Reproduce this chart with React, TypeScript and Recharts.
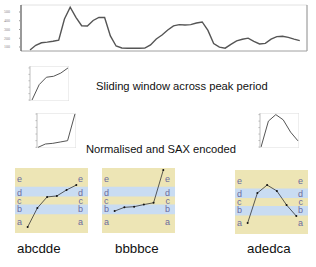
import { Line, LineChart, ReferenceArea, ReferenceLine, XAxis, YAxis } from "recharts";

// full period trace (one value per sample)
const trafficValues = [
  66, 119, 148, 155, 165, 177, 420, 554, 439, 343, 340, 403, 439, 437, 227, 111,
  89, 85, 85, 85, 87, 123, 191, 237, 294, 342, 356, 351, 356, 374, 386, 289,
  140, 98, 86, 129, 169, 188, 201, 164, 134, 141, 190, 219, 222, 210, 190, 172,
];
const trafficTicks = [100, 200, 300, 400, 500];
const trafficTickLabels = ["100", "200", "300", "400", "500"];

// windows, raw shape scaled 0..1
const windowSteps = [0, 1, 2, 3, 4, 5];
const rawWindowA = [0, 0.48, 0.71, 0.74, 0.84, 1.0];
const rawWindowB = [0, 0.1, 0.12, 0.16, 0.2, 1.0];
const rawWindowC = [0, 0.8, 1.0, 0.84, 0.46, 0.19];
const thumbTicks = [0, 0.2, 0.4, 0.6, 0.8, 1];

// normalised (z) values
const saxA = [-1.63, -0.46, 0.22, 0.28, 0.65, 0.95];
const saxB = [-0.65, -0.42, -0.38, -0.25, -0.14, 1.88];
const saxC = [-1.31, 0.56, 1.06, 0.69, -0.19, -0.88];
const saxLetters = ["a", "b", "c", "d", "e"];
const saxLetterLevels = [-1.32, -0.5, 0, 0.5, 1.32];
const saxBreakpoints = [-0.84, -0.25, 0.25, 0.84];
const saxWords = ["abcdde", "bbbbce", "adedca"];

const FONT = "'Liberation Sans', Arial, sans-serif";
const KHAKI = "#ede5b5";
const BAND = "#c9dcf2";
const LETTER = "#6b6b9e";

const toRows = (vals: number[]) => vals.map((v, i) => ({ step: windowSteps[i], v }));
const letterFor = (v: number) => saxLetters[saxLetterLevels.indexOf(v)];

const TrafficChart = () => {
  const data = trafficValues.map((v, i) => ({ i, v }));
  return (
    <div style={{ position: "absolute", left: 0, top: 0 }}>
      <LineChart width={308} height={55} data={data} margin={{ top: 5, right: 1, left: 0, bottom: 0 }}>
        <XAxis
          dataKey="i"
          type="number"
          domain={[-1.57, 48.26]}
          allowDataOverflow
          tick={false}
          tickLine={false}
          height={4}
          axisLine={{ stroke: "#a0a0a0" }}
        />
        <YAxis
          type="number"
          domain={[54, 580]}
          allowDataOverflow
          ticks={trafficTicks}
          interval={0}
          width={21}
          tickSize={2}
          tickMargin={9}
          tick={{ fontSize: 4, fill: "#888" }}
          tickFormatter={(v: number) => trafficTickLabels[trafficTicks.indexOf(v)]}
          axisLine={{ stroke: "#555", strokeWidth: 1.2 }}
          tickLine={{ stroke: "#999" }}
        />
        <ReferenceLine y={580} stroke="#e2e2e2" />
        <ReferenceLine x={48.26} stroke="#8a8a8a" />
        <Line dataKey="v" stroke="#555" strokeWidth={1.4} dot={false} isAnimationActive={false} />
      </LineChart>
    </div>
  );
};

type ThumbProps = {
  values: number[];
  left: number;
  top: number;
  xDomain: [number, number];
  yDomain: [number, number];
};

const WindowThumb = ({ values, left, top, xDomain, yDomain }: ThumbProps) => (
  <div style={{ position: "absolute", left: left - 4, top }}>
    <LineChart width={43} height={35} data={toRows(values)} margin={{ top: 0, right: 0, left: 0, bottom: 0 }}>
      <XAxis hide dataKey="step" type="number" domain={xDomain} allowDataOverflow />
      <YAxis
        type="number"
        domain={yDomain}
        allowDataOverflow
        ticks={thumbTicks}
        interval={0}
        width={4}
        tickSize={1.5}
        tickFormatter={() => ""}
        tickLine={{ stroke: "#b8b8b8" }}
        axisLine={{ stroke: "#d0d0d0" }}
      />
      <ReferenceArea x1={xDomain[0]} x2={xDomain[1]} y1={yDomain[0]} y2={yDomain[1]} fill="none" stroke="#dcdcdc" />
      <Line dataKey="v" stroke="#555" strokeWidth={1} dot={false} isAnimationActive={false} />
    </LineChart>
  </div>
);

type SaxProps = {
  values: number[];
  left: number;
  top: number;
  height: number;
  word: string;
  wordLeft: number;
  wordTop: number;
};

const SaxBox = ({ values, left, top, height, word, wordLeft, wordTop }: SaxProps) => (
  <div style={{ position: "absolute", left, top }}>
    <LineChart width={73} height={height} data={toRows(values)} margin={{ top: 0, right: 0, left: 0, bottom: 0 }}>
      <XAxis hide dataKey="step" type="number" domain={[-1.3, 6.2]} allowDataOverflow />
      <ReferenceArea yAxisId="l" y1={-2} y2={2} fill={KHAKI} fillOpacity={1} ifOverflow="visible" />
      <ReferenceArea yAxisId="l" y1={saxBreakpoints[0]} y2={saxBreakpoints[1]} fill={BAND} fillOpacity={1} />
      <ReferenceArea yAxisId="l" y1={saxBreakpoints[2]} y2={saxBreakpoints[3]} fill={BAND} fillOpacity={1} />
      <YAxis
        yAxisId="l"
        orientation="left"
        mirror
        type="number"
        domain={[-2, 2]}
        allowDataOverflow
        ticks={saxLetterLevels}
        interval={0}
        minTickGap={-20}
        tickFormatter={letterFor}
        axisLine={false}
        tickLine={false}
        tickSize={0}
        tickMargin={2}
        tick={{ fontSize: 9, fill: LETTER, fontFamily: FONT }}
      />
      <YAxis
        yAxisId="r"
        orientation="right"
        mirror
        type="number"
        domain={[-2, 2]}
        allowDataOverflow
        ticks={saxLetterLevels}
        interval={0}
        minTickGap={-20}
        tickFormatter={letterFor}
        axisLine={false}
        tickLine={false}
        tickSize={0}
        tickMargin={5}
        tick={{ fontSize: 9, fill: LETTER, fontFamily: FONT }}
      />
      <Line
        yAxisId="l"
        dataKey="v"
        stroke="#333"
        strokeWidth={0.8}
        dot={{ r: 1, fill: "#111", stroke: "none" }}
        isAnimationActive={false}
      />
    </LineChart>
    <div
      style={{
        position: "absolute",
        left: wordLeft,
        top: wordTop,
        fontFamily: FONT,
        fontSize: 13.3,
        whiteSpace: "nowrap",
        color: "#111",
      }}
    >
      {word}
    </div>
  </div>
);

const caption = (text: string, left: number, top: number) => (
  <div
    style={{
      position: "absolute",
      left,
      top,
      fontFamily: FONT,
      fontSize: 11.2,
      whiteSpace: "nowrap",
      color: "#111",
    }}
  >
    {text}
  </div>
);

export default function App() {
  return (
    <div
      style={{
        position: "absolute",
        left: 0,
        top: 0,
        width: 316,
        height: 267,
        background: "#fff",
        overflow: "hidden",
      }}
    >
      <TrafficChart />
      <WindowThumb values={rawWindowA} left={30} top={66} xDomain={[-0.28, 5.14]} yDomain={[-0.03, 1.06]} />
      <WindowThumb values={rawWindowB} left={37} top={113} xDomain={[-0.14, 5.14]} yDomain={[-0.02, 1.03]} />
      <WindowThumb values={rawWindowC} left={260} top={113} xDomain={[-0.14, 5.14]} yDomain={[-0.03, 1.05]} />
      {caption("Sliding window across peak period", 96, 80)}
      {caption("Normalised and SAX encoded", 86, 143)}
      <SaxBox values={saxA} left={15} top={168} height={65} word={saxWords[0]} wordLeft={2} wordTop={73} />
      <SaxBox values={saxB} left={102} top={168} height={65} word={saxWords[1]} wordLeft={13} wordTop={73} />
      <SaxBox values={saxC} left={235} top={170} height={64} word={saxWords[2]} wordLeft={12} wordTop={71} />
    </div>
  );
}
